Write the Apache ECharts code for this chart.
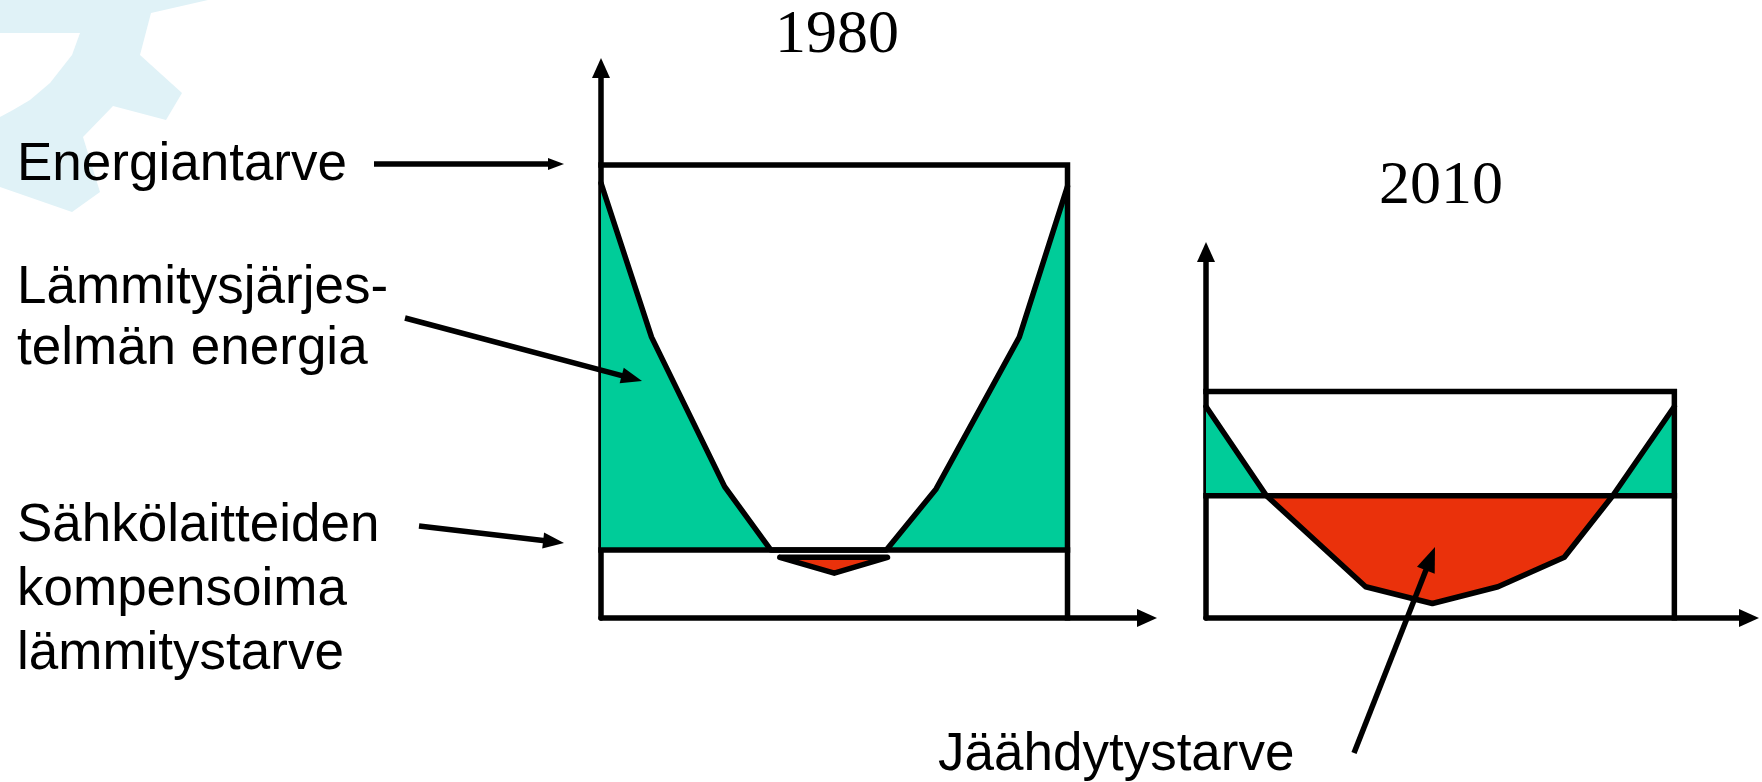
<!DOCTYPE html>
<html><head><meta charset="utf-8">
<script src="https://cdn.jsdelivr.net/npm/echarts@6/dist/echarts.min.js"></script>
<style>html,body{margin:0;padding:0;background:#fff}#c{width:1762px;height:782px}</style>
</head><body><div id="c"></div>
<script>
// ---- data (x: time of year 0..12, y: energy, 1980 demand = 100) ----
const months1980 = [0, 1.30, 3.18, 4.37, 7.34, 8.62, 10.76, 12];
const heat1980   = [96, 62, 29, 15, 15, 28.5, 62, 95.3];
const coolX1980  = [4.6, 6.0, 7.37, 4.6];
const coolY1980  = [13.4, 9.9, 13.4, 13.4];
const demand1980 = 100;
const base1980   = 15;

const months2010 = [0, 1.55, 4.09, 5.80, 7.48, 9.18, 10.42, 12];
const curve2010  = [46.7, 27, 6.9, 3.2, 6.9, 13.4, 27, 46.7];
const demand2010 = 50;
const base2010   = 27;

const yearStart = 0, yearEnd = 12;
const titles = ['1980', '2010'];
const labelEnergy = ['Energiantarve'];
const labelHeating = ['Lämmitysjärjes-', 'telmän energia'];
const labelAppliances = ['Sähkölaitteiden', 'kompensoima', 'lämmitystarve'];
const labelCooling = ['Jäähdytystarve'];

const GREEN = '#00cc99', RED = '#ea310b', BLACK = '#000';
const LW = 5.5;

const zip = (xs, ys) => xs.map((x, i) => [x, ys[i]]);

function axisBase(gi, max) {
  return {type: 'value', gridIndex: gi, min: 0, max: max,
    axisLine: {show: true, onZero: false, lineStyle: {color: BLACK, width: LW},
      symbol: ['none', 'triangle'], symbolSize: [18, 20]},
    axisTick: {show: false}, axisLabel: {show: false}, splitLine: {show: false}};
}
function lineS(gi, data, extra) {
  return Object.assign({type: 'line', xAxisIndex: gi, yAxisIndex: gi, data: data,
    showSymbol: false, symbol: 'none', silent: true, animation: false,
    lineStyle: {color: BLACK, width: LW, join: 'miter', cap: 'square'}}, extra || {});
}

const series = [
  // 0: 1980 heating area
  lineS(0, zip(months1980, heat1980), {areaStyle: {color: GREEN, opacity: 1, origin: base1980},
    lineStyle: {color: BLACK, width: LW, join: 'round', cap: 'round'}}),
  // 1: 1980 small cooling triangle
  lineS(0, zip(coolX1980, coolY1980), {areaStyle: {color: RED, opacity: 1, origin: coolY1980[0]},
    lineStyle: {color: BLACK, width: LW, join: 'round', cap: 'round'}}),
  // 2: 1980 demand box
  lineS(0, [[yearStart, demand1980], [yearEnd, demand1980], [yearEnd, 0]]),
  // 3: 1980 baseline
  lineS(0, [[yearStart, base1980], [yearEnd, base1980]]),
  // 4: 2010 curve (green above baseline, red below)
  lineS(1, zip(months2010, curve2010), {areaStyle: {opacity: 1, origin: base2010},
    lineStyle: {color: BLACK, width: LW, join: 'round', cap: 'round'}}),
  // 5: 2010 demand box
  lineS(1, [[yearStart, demand2010], [yearEnd, demand2010], [yearEnd, 0]]),
  // 6: 2010 baseline
  lineS(1, [[yearStart, base2010], [yearEnd, base2010]])
];

function arrow(x1, y1, x2, y2, len, wid) {
  const dx = x2 - x1, dy = y2 - y1, L = Math.hypot(dx, dy);
  const ux = dx / L, uy = dy / L, px = -uy, py = ux;
  const bx = x2 - ux * len, by = y2 - uy * len;
  return [
    {type: 'line', z: 20, shape: {x1: x1, y1: y1, x2: bx + ux * 2, y2: by + uy * 2},
      style: {stroke: BLACK, lineWidth: LW}},
    {type: 'polygon', z: 20, shape: {points: [[x2, y2], [bx + px * wid / 2, by + py * wid / 2], [bx - px * wid / 2, by - py * wid / 2]]},
      style: {fill: BLACK}}
  ];
}
function txt(s, x, y, size, family, align) {
  return {type: 'text', z: 20, x: x, y: y,
    style: {text: s, fill: BLACK, font: size + 'px ' + family, textAlign: align || 'left', textVerticalAlign: 'middle'}};
}
const SANS = '"Liberation Sans", Arial, sans-serif';
const SERIF = '"Liberation Serif", "Times New Roman", serif';

const graphic = [
  // watermark gear (decoration)
  {type: 'polygon', z: 0, shape: {points: [[0,0],[208,0],[151,13],[140,55],[182,93],[166,120],[113,106],[83,137],[100,192],[72,212],[0,187]]},
    style: {fill: '#e0f2f7'}},
  {type: 'polygon', z: 1, shape: {points: [[0,33],[80,33],[72,55],[50,83],[30,100],[13,110],[0,117]]},
    style: {fill: '#ffffff'}},
  txt(titles[0], 837, 36, 62, SERIF, 'center'),
  txt(titles[1], 1441, 187, 62, SERIF, 'center'),
  txt(labelEnergy[0], 17, 165, 53, SANS),
  txt(labelHeating[0], 17, 288, 53, SANS),
  txt(labelHeating[1], 17, 349, 53, SANS),
  txt(labelAppliances[0], 17, 526, 53, SANS),
  txt(labelAppliances[1], 17, 590, 53, SANS),
  txt(labelAppliances[2], 17, 654, 53, SANS),
  txt(labelCooling[0], 938, 755, 53, SANS),
  ...arrow(374, 164, 564, 164, 16, 12),
  ...arrow(405, 318, 642, 381, 21, 16),
  ...arrow(419, 526, 564, 543, 21, 16),
  ...arrow(1354, 753, 1435, 547, 25, 19)
];

const chart = echarts.init(document.getElementById('c'), null, {renderer: 'canvas'});
chart.setOption({
  backgroundColor: '#fff',
  animation: false,
  grid: [
    {left: 601, top: 68, width: 546, height: 550},
    {left: 1206, top: 252, width: 543, height: 366}
  ],
  xAxis: [axisBase(0, 546 / 38.875), axisBase(1, 543 / 39.03)],
  yAxis: [axisBase(0, 550 / 4.53), axisBase(1, 366 / 4.53)],
  visualMap: [{type: 'piecewise', show: false, seriesIndex: 4, dimension: 1,
    pieces: [{gte: base2010, lte: 1000, color: GREEN}, {gte: -1000, lt: base2010, color: RED}]}],
  series: series,
  graphic: graphic
});
</script>
</body></html>
